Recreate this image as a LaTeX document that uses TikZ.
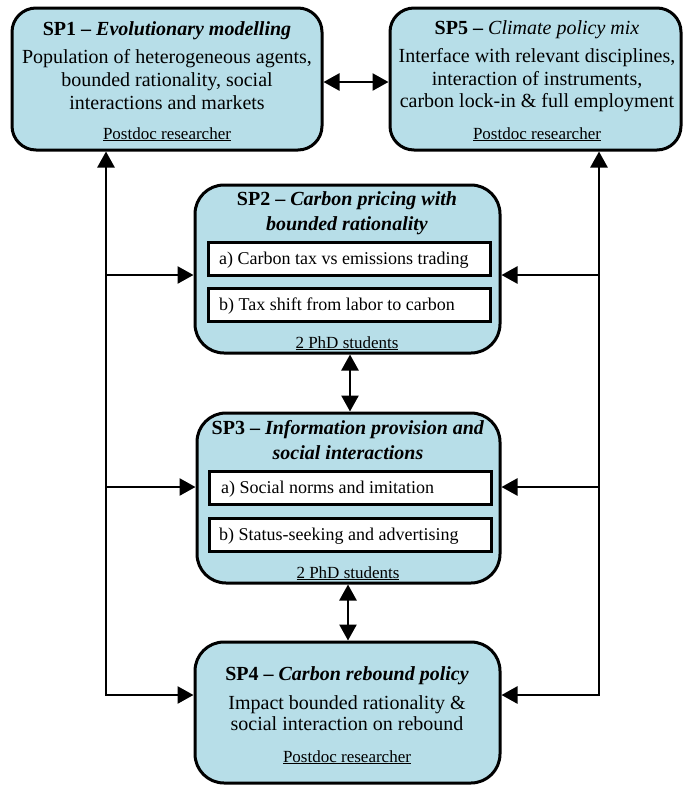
\documentclass[tikz,border=0pt]{standalone}
\usepackage{fontspec}
\setmainfont{LiberationSerif}[Extension=.ttf, UprightFont=*-Regular, BoldFont=*-Bold, ItalicFont=*-Italic, BoldItalicFont=*-BoldItalic]
\usetikzlibrary{arrows.meta}
\definecolor{boxblue}{HTML}{B7DEE8}
\begin{document}
\begin{tikzpicture}[x=1pt,y=-1pt,
 spbox/.style={draw=black, line width=3pt, fill=boxblue, rounded corners=24pt, inner sep=0pt},
 spboxr/.style={spbox, rounded corners=29pt},
 subbox/.style={draw=black, line width=3pt, fill=white, inner sep=0pt, minimum width=282pt, minimum height=33pt},
 ttl/.style={font=\fontsize{20}{22}\selectfont, anchor=base, inner sep=0pt},
 bodytxt/.style={font=\fontsize{20}{22}\selectfont, anchor=base, inner sep=0pt},
 ftr/.style={font=\fontsize{17}{20}\selectfont, anchor=base, inner sep=0pt},
 subtxt/.style={font=\fontsize{18}{20}\selectfont, anchor=base west, inner sep=0pt},
 arr/.style={line width=2.6pt, -{Triangle[length=16pt,width=17pt]}},
 darr/.style={line width=2.6pt, {Triangle[length=16pt,width=17pt]}-{Triangle[length=16pt,width=17pt]}}]
\useasboundingbox (0,0) rectangle (683,785);

% main boxes
\node[spbox, minimum width=310pt, minimum height=142pt] (sp1) at (167,79) {};
\node[spbox, minimum width=291pt, minimum height=142pt] (sp5) at (535.5,79) {};
\node[spboxr, minimum width=305pt, minimum height=168pt] (sp2) at (347.5,269) {};
\node[spboxr, minimum width=303pt, minimum height=170pt] (sp3) at (348.5,498) {};
\node[spboxr, minimum width=305pt, minimum height=141pt] (sp4) at (347.5,712.5) {};

% sub boxes
\node[subbox] (a2) at (349,258.5) {};
\node[subbox] (b2) at (349,304.5) {};
\node[subbox] (a3) at (350,487.5) {};
\node[subbox] (b3) at (350,534.5) {};

% SP1 text
\node[ttl] (t1) at (167,35) {\textbf{SP1 – \textit{Evolutionary modelling}}};
\node[bodytxt] (l1a) at (167,63) {Population of heterogeneous agents,};
\node[bodytxt] (l1b) at (167,86) {bounded rationality, social};
\node[bodytxt] (l1c) at (167,109) {interactions and markets};
\node[ftr] (f1) at (167,139) {\underline{Postdoc researcher}};

% SP5 text
\node[ttl] (t5) at (537,34) {\textbf{SP5 –} \textit{Climate policy mix}};
\node[bodytxt] (l5a) at (537,62) {Interface with relevant disciplines,};
\node[bodytxt] (l5b) at (537,85) {interaction of instruments,};
\node[bodytxt] (l5c) at (537,107) {carbon lock-in \& full employment};
\node[ftr] (f5) at (537,139) {\underline{Postdoc researcher}};

% SP2 text
\node[ttl] (t2a) at (347,205) {\textbf{SP2 – \textit{Carbon pricing with}}};
\node[ttl] (t2b) at (347,230) {\textbf{\textit{bounded rationality}}};
\node[subtxt] (s2a) at (219,264) {a) Carbon tax vs emissions trading};
\node[subtxt] (s2b) at (219,310) {b) Tax shift from labor to carbon};
\node[ftr] (f2) at (347,348) {\underline{2 PhD students}};

% SP3 text
\node[ttl] (t3a) at (348,434) {\textbf{SP3 – \textit{Information provision and}}};
\node[ttl] (t3b) at (348,459) {\textbf{\textit{social interactions}}};
\node[subtxt] (s3a) at (221,493) {a) Social norms and imitation};
\node[subtxt] (s3b) at (219,540) {b) Status-seeking and advertising};
\node[ftr] (f3) at (348,578) {\underline{2 PhD students}};

% SP4 text
\node[ttl] (t4) at (347,680) {\textbf{SP4 – \textit{Carbon rebound policy}}};
\node[bodytxt] (l4a) at (347,709) {Impact bounded rationality \&};
\node[bodytxt] (l4b) at (347,730) {social interaction on rebound};
\node[ftr] (f4) at (347,762) {\underline{Postdoc researcher}};

% junction coordinates
\coordinate (L2) at (106,275);
\coordinate (L3) at (106,487);
\coordinate (L4) at (106,695);
\coordinate (R2) at (599,275);
\coordinate (R3) at (599,487);
\coordinate (R4) at (599,695);
\coordinate (T) at (356,82);
\coordinate (M23) at (350,383);
\coordinate (M34) at (348,612);

% connectors
\draw[darr] (sp1.east |- T) -- (sp5.west |- T);
\draw[darr] (sp1.south -| L4) -- (L4) -- (sp4.west |- L4);
\draw[arr] (L2) -- (sp2.west |- L2);
\draw[arr] (L3) -- (sp3.west |- L3);
\draw[darr] (sp5.south -| R4) -- (R4) -- (sp4.east |- R4);
\draw[arr] (R2) -- (sp2.east |- R2);
\draw[arr] (R3) -- (sp3.east |- R3);
\draw[darr] (sp2.south -| M23) -- (sp3.north -| M23);
\draw[darr] (sp3.south -| M34) -- (sp4.north -| M34);
\end{tikzpicture}
\end{document}
